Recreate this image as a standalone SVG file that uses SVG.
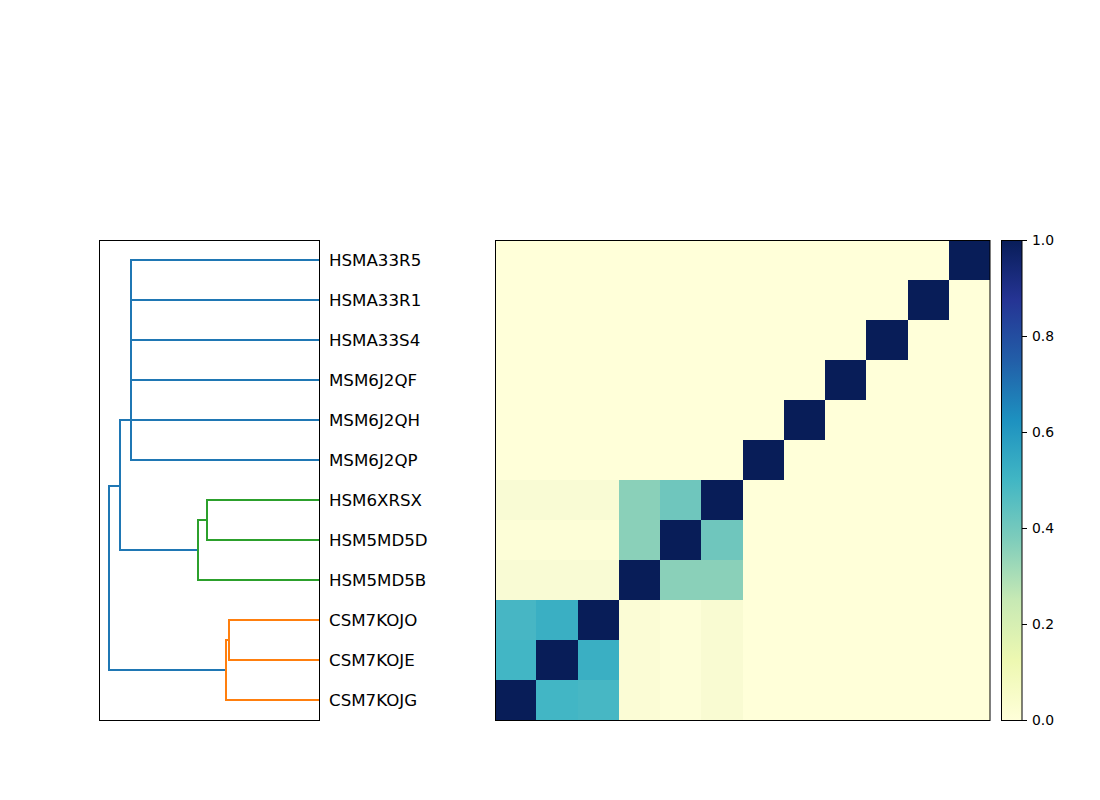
<svg xmlns="http://www.w3.org/2000/svg" width="1100" height="800" viewBox="0 0 1100 800">
<style>
.frame{fill:none;stroke:#000;stroke-width:1}
.c0{fill:none;stroke:#1f77b4;stroke-width:2;stroke-linecap:butt}
.c1{fill:none;stroke:#ff7f0e;stroke-width:2}
.c2{fill:none;stroke:#2ca02c;stroke-width:2}
.lbl{font-family:"DejaVu Sans",sans-serif;font-size:16.67px;fill:#000}
.tk{font-family:"DejaVu Sans",sans-serif;font-size:13.9px;fill:#000}
.tick{stroke:#000;stroke-width:1}
.d{fill:#081d58}
.b{fill:#ffffd9}
</style>
<defs>
<linearGradient id="ylgnbu" x1="0" y1="1" x2="0" y2="0">
<stop offset="0" stop-color="#ffffd9"/>
<stop offset="0.125" stop-color="#edf8b1"/>
<stop offset="0.25" stop-color="#c7e9b4"/>
<stop offset="0.375" stop-color="#7fcdbb"/>
<stop offset="0.5" stop-color="#41b6c4"/>
<stop offset="0.625" stop-color="#1d91c0"/>
<stop offset="0.75" stop-color="#225ea8"/>
<stop offset="0.875" stop-color="#253494"/>
<stop offset="1" stop-color="#081d58"/>
</linearGradient>
</defs>
<rect width="1100" height="800" fill="#fff"/>

<g id="connectors">
<path class="c0" d="M319,260H131V460H319M131,300H319M131,340H319M131,380H319M131,420H319"/>
<path class="c0" d="M131,420H120V550H198"/>
<path class="c0" d="M120,486H109V670H226"/>
<path class="c2" d="M319,500H207V540H319"/>
<path class="c2" d="M207,520H198V580H319"/>
<path class="c1" d="M319,620H229V660H319"/>
<path class="c1" d="M229,640H226V700H319"/>
</g>

<g id="dendrogram-frame"><rect class="frame" x="99.5" y="240.5" width="220" height="480"/></g>

<g id="labels">
<g id="n-HSMA33R5"><text class="lbl" x="329" y="266">HSMA33R5</text></g>
<g id="n-HSMA33R1"><text class="lbl" x="329" y="306">HSMA33R1</text></g>
<g id="n-HSMA33S4"><text class="lbl" x="329" y="346">HSMA33S4</text></g>
<g id="n-MSM6J2QF"><text class="lbl" x="329" y="386">MSM6J2QF</text></g>
<g id="n-MSM6J2QH"><text class="lbl" x="329" y="426">MSM6J2QH</text></g>
<g id="n-MSM6J2QP"><text class="lbl" x="329" y="466">MSM6J2QP</text></g>
<g id="n-HSM6XRSX"><text class="lbl" x="329" y="506">HSM6XRSX</text></g>
<g id="n-HSM5MD5D"><text class="lbl" x="329" y="546">HSM5MD5D</text></g>
<g id="n-HSM5MD5B"><text class="lbl" x="329" y="586">HSM5MD5B</text></g>
<g id="n-CSM7KOJO"><text class="lbl" x="329" y="626">CSM7KOJO</text></g>
<g id="n-CSM7KOJE"><text class="lbl" x="329" y="666">CSM7KOJE</text></g>
<g id="n-CSM7KOJG"><text class="lbl" x="329" y="706">CSM7KOJG</text></g>
</g>

<g id="heatmap">
<g shape-rendering="crispEdges">
<rect class="b" x="495" y="240" width="495" height="480"/>
<rect class="d" x="948.75" y="240" width="41.25" height="40"/>
<rect class="d" x="907.5" y="280" width="41.25" height="40"/>
<rect class="d" x="866.25" y="320" width="41.25" height="40"/>
<rect class="d" x="825" y="360" width="41.25" height="40"/>
<rect class="d" x="783.75" y="400" width="41.25" height="40"/>
<rect class="d" x="742.5" y="440" width="41.25" height="40"/>
<rect fill="#f9fbd4" x="495" y="480" width="123.75" height="40"/>
<rect fill="#8ad0b9" x="618.75" y="480" width="41.25" height="40"/>
<rect fill="#6fc6bd" x="660" y="480" width="41.25" height="40"/>
<rect class="d" x="701.25" y="480" width="41.25" height="40"/>
<rect fill="#fdfed7" x="495" y="520" width="123.75" height="40"/>
<rect fill="#8ad0b9" x="618.75" y="520" width="41.25" height="40"/>
<rect class="d" x="660" y="520" width="41.25" height="40"/>
<rect fill="#6fc6bd" x="701.25" y="520" width="41.25" height="40"/>
<rect fill="#f9fbd4" x="495" y="560" width="123.75" height="40"/>
<rect class="d" x="618.75" y="560" width="41.25" height="40"/>
<rect fill="#8ad0b9" x="660" y="560" width="82.5" height="40"/>
<rect fill="#47b6c4" x="495" y="600" width="41.25" height="40"/>
<rect fill="#3aafc3" x="536.25" y="600" width="41.25" height="40"/>
<rect class="d" x="577.5" y="600" width="41.25" height="40"/>
<rect fill="#42b6c5" x="495" y="640" width="41.25" height="40"/>
<rect class="d" x="536.25" y="640" width="41.25" height="40"/>
<rect fill="#3aafc3" x="577.5" y="640" width="41.25" height="40"/>
<rect class="d" x="495" y="680" width="41.25" height="40"/>
<rect fill="#42b6c5" x="536.25" y="680" width="41.25" height="40"/>
<rect fill="#47b7c4" x="577.5" y="680" width="41.25" height="40"/>
<rect fill="#fbfcd5" x="618.75" y="600" width="41.25" height="120"/>
<rect fill="#fdfed8" x="660" y="600" width="41.25" height="120"/>
<rect fill="#f9fbd2" x="701.25" y="600" width="41.25" height="120"/>
</g>
<rect class="frame" x="495.5" y="240.5" width="494.5" height="480"/>
</g>

<g id="colorbar">
<rect x="1001" y="240" width="21" height="480" fill="url(#ylgnbu)"/>
<rect class="frame" x="1001.5" y="240.5" width="20.5" height="480"/>
<g class="tick">
<line x1="1022" y1="240.5" x2="1027" y2="240.5"/>
<line x1="1022" y1="336.5" x2="1027" y2="336.5"/>
<line x1="1022" y1="432.5" x2="1027" y2="432.5"/>
<line x1="1022" y1="528.5" x2="1027" y2="528.5"/>
<line x1="1022" y1="624.5" x2="1027" y2="624.5"/>
<line x1="1022" y1="720.5" x2="1027" y2="720.5"/>
</g>
<text class="tk" x="1032" y="245">1.0</text>
<text class="tk" x="1032" y="341">0.8</text>
<text class="tk" x="1032" y="437">0.6</text>
<text class="tk" x="1032" y="533">0.4</text>
<text class="tk" x="1032" y="629">0.2</text>
<text class="tk" x="1032" y="725">0.0</text>
</g>
</svg>
